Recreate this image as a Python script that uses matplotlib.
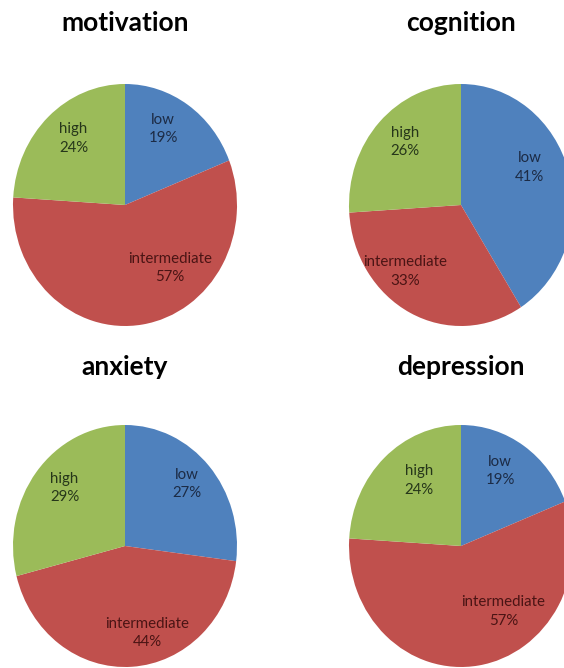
import matplotlib
matplotlib.use("Agg")
import matplotlib.pyplot as plt

# survey outcome shares per scale, in percent
titles = ["motivation", "cognition", "anxiety", "depression"]
levels = ["low", "intermediate", "high"]
motivation = [19, 57, 24]
cognition = [41, 33, 26]
anxiety = [27, 44, 29]
depression = [19, 57, 24]
shares = [motivation, cognition, anxiety, depression]

colors = ["#4F81BD", "#C0504D", "#9BBB59"]
text_colors = ["#1c2b45", "#4a1414", "#26361a"]

# pie centre and half-axes in pixels (from the top-left corner)
W, H = 564, 668
geom = [
    (125, 205, 112, 121),
    (461, 205, 112, 121),
    (125, 546, 112, 121),
    (461, 546, 112, 121),
]
title_y = [23, 23, 367, 367]
# label anchor for each wedge, in pie units
label_pos = [
    [(0.34, 0.63), (0.40, -0.52), (-0.46, 0.55)],
    [(0.61, 0.31), (-0.50, -0.55), (-0.50, 0.52)],
    [(0.55, 0.51), (0.20, -0.72), (-0.54, 0.48)],
    [(0.35, 0.62), (0.38, -0.54), (-0.375, 0.54)],
]

plt.rcParams["font.family"] = ["Lato", "DejaVu Sans"]
fig = plt.figure(figsize=(W / 100, H / 100), dpi=100)

for i, (name, vals) in enumerate(zip(titles, shares)):
    cx, cy, rx, ry = geom[i]
    ax = fig.add_axes([(cx - rx) / W, (H - cy - ry) / H, 2 * rx / W, 2 * ry / H])
    ax.pie(vals, colors=colors, startangle=90, counterclock=False,
           wedgeprops=dict(linewidth=0))
    ax.set_aspect("auto")
    ax.set_xlim(-1, 1)
    ax.set_ylim(-1, 1)
    ax.axis("off")
    for j, v in enumerate(vals):
        x, y = label_pos[i][j]
        ax.text(x, y, f"{levels[j]}\n{v}%", ha="center", va="center",
                fontsize=10.8, color=text_colors[j], linespacing=1.4)
    fig.text(cx / W, 1 - title_y[i] / H, name,
             ha="center", va="center", fontsize=19, fontweight="bold")

fig.savefig("out.png", dpi=100)
